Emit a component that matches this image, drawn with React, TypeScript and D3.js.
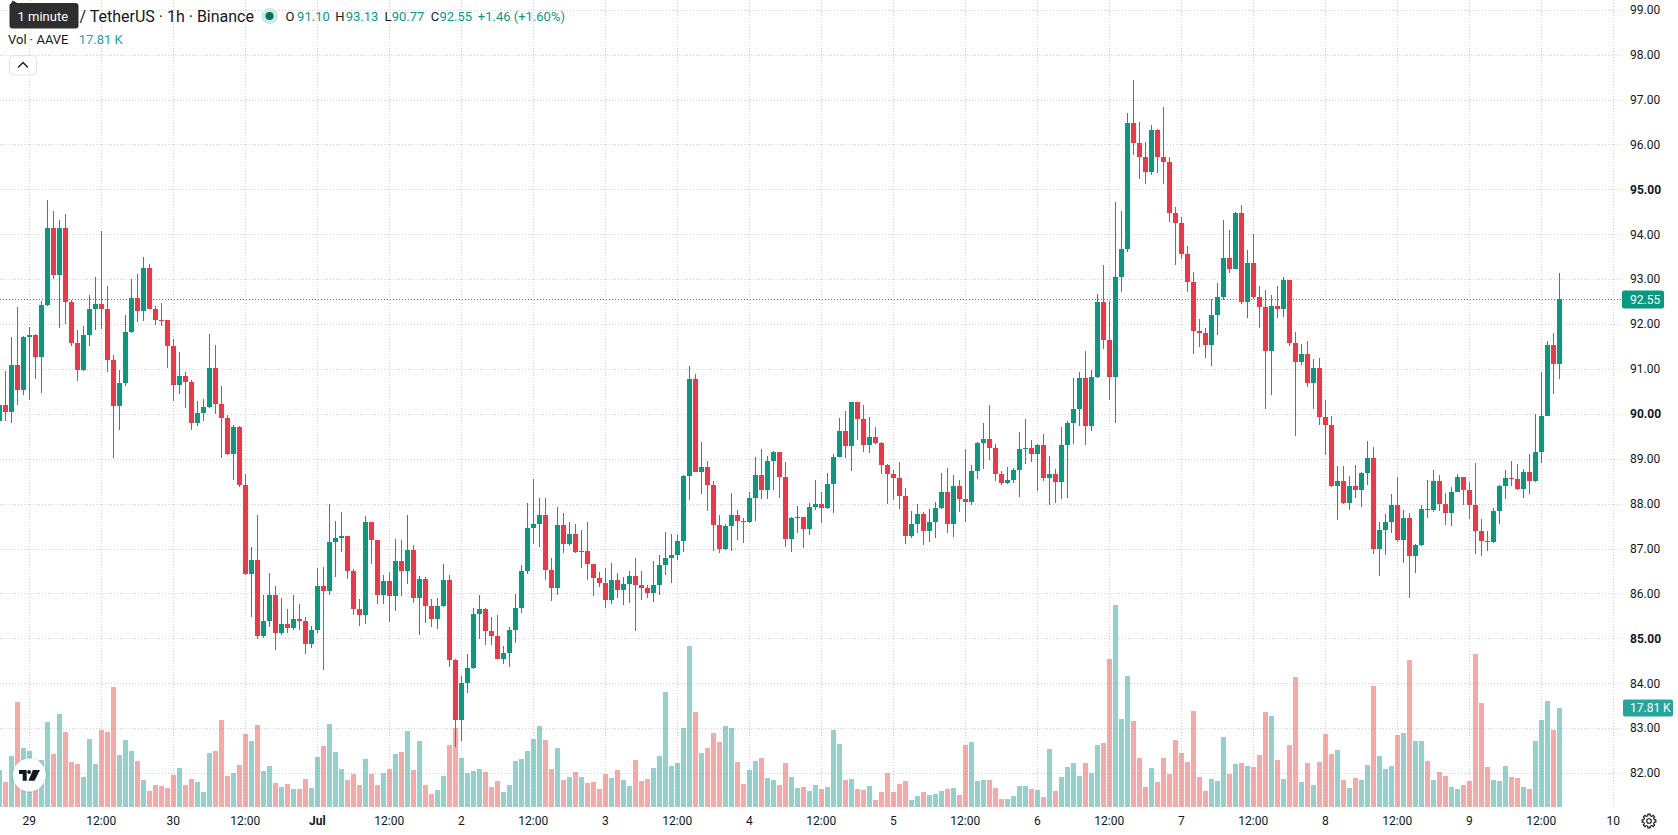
import React, { useEffect } from 'react';
import * as d3 from 'd3';

// ---- hourly AAVE/USDT bars, first bar 2024-06-28 19:00 UTC ----
const FIRST_BAR = Date.UTC(2024, 5, 28, 19);
const HOUR = 3600 * 1000;

const opens = [
  89.83, 90.20, 90.03, 91.09, 90.52,
  91.71, 91.76, 91.27, 92.42, 94.14, 93.10, 94.14, 92.50, 91.58, 90.98, 91.76, 92.33, 92.45, 92.33, 91.20, 90.17, 90.69, 91.82, 92.58, 92.28, 93.25, 92.34, 92.10, 92.08,
  91.50, 90.65, 90.84, 90.72, 89.80, 90.02, 90.15, 91.02, 90.23, 89.91, 89.11, 89.71, 88.42, 86.43, 86.75, 85.06, 85.38, 85.96, 85.12, 85.32, 85.23, 85.43, 85.38, 84.87,
  85.18, 86.17, 86.05, 87.14, 87.23, 87.28, 86.51, 85.66, 85.52, 87.59, 87.18, 85.96, 86.28, 85.94, 86.72, 86.50, 86.97, 85.90, 86.33, 85.72, 85.43, 85.71, 86.30, 84.52,
  83.19, 84.01, 84.35, 85.54, 85.65, 85.17, 85.06, 84.54, 84.67, 85.18, 85.67, 86.49, 87.46, 87.55, 87.75, 86.53, 86.11, 87.52, 87.10, 87.32, 86.92, 86.94, 86.65, 86.35,
  86.24, 85.85, 86.29, 86.08, 86.20, 86.39, 86.18, 86.13, 86.01, 86.18, 86.63, 86.78, 86.85, 87.16, 88.61, 90.78, 88.70, 88.82, 88.42, 87.52, 86.99, 87.51, 87.74, 87.61,
  87.58, 88.12, 88.64, 88.30, 88.94, 89.14, 88.60, 87.21, 87.68, 87.70, 87.43, 87.92, 87.99, 87.90, 88.44, 89.04, 89.62, 89.28, 90.26, 89.89, 89.31, 89.48, 89.34, 88.86,
  88.65, 88.57, 88.16, 87.28, 87.54, 87.76, 87.39, 87.58, 87.90, 88.26, 87.55, 88.39, 88.11, 88.04, 88.72, 89.34, 89.45, 89.23, 88.65, 88.46, 88.52, 88.76, 89.22, 89.24,
  89.10, 89.31, 88.57, 88.65, 88.48, 89.30, 89.79, 90.10, 90.80, 89.73, 90.81, 92.49, 91.64, 90.82, 93.04, 93.67, 96.48, 96.03, 95.72, 95.39, 96.32, 95.71, 95.60, 94.47,
  94.24, 93.56, 92.93, 91.85, 91.80, 91.53, 92.21, 92.61, 93.47, 93.23, 94.48, 92.49, 93.36, 92.61, 92.39, 91.39, 92.41, 92.33, 92.98, 91.57, 91.15, 91.33, 90.69, 91.01,
  89.94, 89.75, 88.40, 88.51, 88.02, 88.39, 88.31, 88.68, 89.02, 87.00, 87.42, 87.60, 87.96, 87.19, 87.67, 86.83, 87.07, 87.88, 87.85, 88.50, 87.99, 87.79, 88.27, 88.59,
  88.31, 87.97, 87.40, 87.16, 87.14, 87.83, 88.40, 88.57, 88.55, 88.32, 88.70, 88.50, 89.14, 89.96, 91.53, 91.10,
];

const highs = [
  90.30, 90.96, 91.72, 92.39, 91.74,
  91.94, 91.78, 92.52, 94.76, 94.52, 94.32, 94.45, 92.54, 91.87, 91.96, 92.65, 93.05, 94.07, 92.85, 91.30, 90.98, 92.20, 93.00, 93.11, 93.49, 93.34, 92.40, 92.47, 92.09,
  91.67, 91.38, 90.93, 90.75, 90.29, 90.33, 91.78, 91.54, 90.63, 89.98, 89.75, 89.73, 88.66, 87.03, 87.75, 85.96, 86.45, 86.16, 85.90, 85.65, 85.96, 85.76, 85.48, 85.28,
  86.57, 86.59, 87.99, 87.61, 87.81, 87.29, 86.54, 85.88, 87.72, 87.60, 87.19, 86.41, 86.48, 87.21, 87.19, 87.75, 87.08, 86.39, 86.37, 85.88, 85.90, 86.66, 86.41, 84.53,
  84.16, 84.65, 85.68, 85.97, 85.68, 85.48, 85.52, 84.83, 85.25, 85.99, 86.63, 88.01, 88.55, 88.13, 88.13, 86.79, 87.92, 87.79, 87.59, 87.55, 87.41, 87.59, 86.66, 86.48,
  86.57, 86.68, 86.46, 86.37, 86.50, 86.79, 86.50, 86.19, 86.72, 86.86, 87.37, 87.32, 87.30, 88.64, 91.07, 90.89, 89.37, 88.95, 88.50, 87.75, 87.55, 88.24, 87.86, 87.68,
  88.26, 89.04, 89.22, 89.06, 89.17, 89.15, 88.93, 87.70, 87.95, 87.71, 88.01, 88.53, 88.26, 88.68, 89.11, 89.91, 90.06, 90.27, 90.27, 90.20, 89.93, 89.71, 89.37, 88.88,
  88.75, 88.93, 88.35, 87.83, 87.99, 87.81, 87.88, 88.04, 88.68, 88.79, 88.64, 88.53, 89.22, 88.86, 89.37, 89.80, 90.20, 89.33, 88.73, 88.81, 88.79, 89.60, 89.88, 89.42,
  89.32, 89.55, 89.06, 88.77, 89.71, 89.84, 90.80, 90.93, 91.40, 90.98, 92.67, 93.31, 92.51, 94.72, 94.52, 96.70, 97.43, 96.50, 96.05, 96.43, 96.34, 96.83, 95.72, 94.61,
  94.38, 93.74, 93.16, 92.11, 91.91, 92.56, 92.91, 94.32, 94.09, 94.50, 94.65, 93.65, 94.00, 92.85, 92.76, 92.65, 92.85, 93.05, 92.99, 91.82, 91.56, 91.62, 91.22, 91.24,
  90.31, 89.95, 88.84, 88.84, 88.61, 88.86, 88.70, 89.40, 89.26, 87.59, 87.77, 88.21, 88.59, 87.86, 87.79, 87.10, 87.97, 88.53, 88.75, 88.64, 88.24, 88.37, 88.66, 88.60,
  88.48, 88.90, 87.66, 87.39, 87.90, 88.41, 88.75, 88.95, 88.88, 88.77, 89.10, 90.00, 90.93, 91.62, 91.80, 93.13,
];

const lows = [
  89.75, 89.85, 89.80, 90.20, 90.42,
  90.31, 90.78, 90.47, 92.40, 93.00, 91.92, 92.00, 91.50, 90.73, 90.96, 91.52, 91.87, 91.89, 90.93, 89.02, 89.63, 90.61, 91.80, 92.05, 92.07, 92.33, 91.98, 91.96, 91.03,
  90.29, 90.45, 90.14, 89.65, 89.74, 89.85, 90.13, 90.00, 89.02, 89.09, 88.53, 88.36, 86.41, 85.48, 84.99, 85.01, 85.25, 84.74, 85.07, 85.12, 85.19, 85.19, 84.65, 84.78,
  85.12, 84.29, 85.96, 86.37, 86.92, 86.32, 85.52, 85.27, 85.32, 86.66, 85.76, 85.76, 85.36, 85.61, 85.94, 86.21, 85.79, 85.07, 85.34, 85.25, 85.21, 85.70, 84.37, 82.59,
  82.71, 83.78, 84.32, 84.99, 84.85, 84.85, 84.54, 84.43, 84.36, 84.90, 85.56, 86.43, 87.10, 87.03, 86.30, 85.83, 85.97, 86.90, 87.06, 86.90, 86.57, 86.30, 85.94, 86.14,
  85.68, 85.76, 85.90, 85.74, 85.79, 85.16, 85.85, 85.90, 85.81, 85.97, 86.41, 86.23, 86.74, 86.92, 88.08, 88.70, 88.21, 87.84, 86.95, 86.90, 86.97, 86.95, 87.19, 87.12,
  87.57, 87.61, 88.10, 88.10, 88.30, 88.13, 87.03, 86.92, 87.35, 87.01, 87.30, 87.86, 87.57, 87.89, 87.79, 89.03, 89.02, 88.73, 89.42, 89.15, 89.13, 89.33, 88.66, 87.99,
  88.08, 87.88, 87.10, 87.23, 87.35, 87.08, 87.14, 87.23, 87.89, 87.35, 87.26, 87.81, 87.59, 87.97, 88.55, 88.77, 88.97, 88.50, 88.41, 88.44, 88.46, 88.15, 88.88, 88.93,
  88.28, 88.50, 87.97, 88.01, 88.10, 88.12, 89.33, 89.73, 89.31, 89.62, 90.80, 91.44, 90.31, 89.80, 92.71, 93.60, 95.76, 95.23, 95.12, 95.32, 95.36, 95.12, 94.27, 93.31,
  93.45, 92.71, 91.33, 91.49, 91.24, 91.07, 91.76, 92.54, 93.14, 93.22, 92.45, 92.13, 92.56, 91.91, 90.11, 90.42, 92.13, 92.16, 91.51, 89.51, 91.09, 90.60, 90.11, 89.75,
  89.08, 88.37, 87.64, 87.99, 87.86, 88.12, 87.92, 88.41, 86.88, 86.39, 86.86, 87.35, 87.15, 86.68, 85.90, 86.46, 87.06, 87.68, 87.81, 87.84, 87.52, 87.50, 88.26, 87.97,
  87.66, 86.88, 86.83, 86.95, 87.13, 87.55, 88.10, 88.39, 88.30, 88.12, 88.21, 88.49, 88.90, 89.95, 90.44, 90.77,
];

const closes = [
  90.20, 90.03, 91.09, 90.52, 91.71,
  91.76, 91.27, 92.42, 94.14, 93.10, 94.14, 92.50, 91.58, 90.98, 91.76, 92.33, 92.45, 92.33, 91.20, 90.17, 90.69, 91.82, 92.58, 92.28, 93.25, 92.34, 92.10, 92.08, 91.50,
  90.65, 90.84, 90.72, 89.80, 90.02, 90.15, 91.02, 90.23, 89.91, 89.11, 89.71, 88.42, 86.43, 86.75, 85.06, 85.38, 85.96, 85.12, 85.32, 85.23, 85.43, 85.38, 84.87, 85.18,
  86.17, 86.05, 87.14, 87.23, 87.28, 86.51, 85.66, 85.52, 87.59, 87.18, 85.96, 86.28, 85.94, 86.72, 86.50, 86.97, 85.90, 86.33, 85.72, 85.43, 85.71, 86.30, 84.52, 83.19,
  84.01, 84.35, 85.54, 85.65, 85.17, 85.06, 84.54, 84.67, 85.18, 85.67, 86.49, 87.46, 87.55, 87.75, 86.53, 86.11, 87.52, 87.10, 87.32, 86.92, 86.94, 86.65, 86.35, 86.24,
  85.85, 86.29, 86.08, 86.20, 86.39, 86.18, 86.13, 86.01, 86.18, 86.63, 86.78, 86.85, 87.16, 88.61, 90.78, 88.70, 88.82, 88.42, 87.52, 86.99, 87.51, 87.74, 87.61, 87.58,
  88.12, 88.64, 88.30, 88.94, 89.14, 88.60, 87.21, 87.68, 87.70, 87.43, 87.92, 87.99, 87.90, 88.44, 89.04, 89.62, 89.28, 90.26, 89.89, 89.31, 89.48, 89.34, 88.86, 88.65,
  88.57, 88.16, 87.28, 87.54, 87.76, 87.39, 87.58, 87.90, 88.26, 87.55, 88.39, 88.11, 88.04, 88.72, 89.34, 89.45, 89.23, 88.65, 88.46, 88.52, 88.76, 89.22, 89.24, 89.10,
  89.31, 88.57, 88.65, 88.48, 89.30, 89.79, 90.10, 90.80, 89.73, 90.81, 92.49, 91.64, 90.82, 93.04, 93.67, 96.48, 96.03, 95.72, 95.39, 96.32, 95.71, 95.60, 94.47, 94.24,
  93.56, 92.93, 91.85, 91.80, 91.53, 92.21, 92.61, 93.47, 93.23, 94.48, 92.49, 93.36, 92.61, 92.39, 91.39, 92.41, 92.33, 92.98, 91.57, 91.15, 91.33, 90.69, 91.01, 89.94,
  89.75, 88.40, 88.51, 88.02, 88.39, 88.31, 88.68, 89.02, 87.00, 87.42, 87.60, 87.96, 87.19, 87.67, 86.83, 87.07, 87.88, 87.85, 88.50, 87.99, 87.79, 88.27, 88.59, 88.31,
  87.97, 87.40, 87.16, 87.14, 87.83, 88.40, 88.57, 88.55, 88.32, 88.70, 88.50, 89.14, 89.96, 91.53, 91.10, 92.55,
];

// volume in thousands of AAVE
const volumesK = [
  6.62, 4.45, 9.15, 18.89, 10.59,
  10.05, 6.0, 8.5, 15.28, 9.51, 16.73, 13.48, 8.07, 7.70, 5.36, 12.20, 7.70, 13.84, 13.48, 21.60, 9.33, 12.04, 10.05, 8.25, 4.82, 2.83, 3.91, 3.73, 3.37,
  5.72, 6.98, 3.91, 5.00, 4.46, 2.65, 9.69, 10.05, 15.64, 5.54, 6.08, 7.52, 13.12, 11.85, 14.74, 6.44, 7.34, 4.28, 3.55, 4.10, 3.19, 3.19, 5.00, 3.37,
  8.97, 10.95, 14.92, 9.87, 6.80, 4.82, 5.90, 3.91, 8.61, 5.90, 3.91, 6.08, 6.80, 9.51, 9.87, 13.66, 6.62, 11.85, 3.91, 2.29, 3.01, 5.54, 11.13, 14.20,
  8.79, 6.08, 6.44, 6.80, 6.26, 3.55, 4.64, 2.65, 3.91, 8.25, 8.61, 10.05, 12.22, 14.56, 12.04, 6.80, 10.59, 4.82, 5.36, 6.26, 5.36, 4.28, 4.46, 3.19,
  5.90, 5.18, 6.62, 4.82, 3.73, 8.43, 4.64, 5.00, 6.98, 9.15, 20.70, 7.34, 7.88, 14.20, 29.00, 17.08, 9.69, 10.59, 13.30, 11.67, 14.56, 14.20, 8.07, 4.10,
  6.62, 8.25, 8.79, 5.18, 4.82, 3.91, 7.88, 5.36, 3.37, 3.55, 2.83, 3.91, 3.19, 3.55, 13.84, 11.31, 4.82, 5.00, 3.19, 3.01, 3.73, 1.21, 2.65, 6.08,
  2.65, 4.10, 4.64, 1.21, 1.93, 2.65, 2.11, 2.29, 2.83, 3.19, 3.37, 2.11, 11.13, 11.67, 4.64, 4.82, 4.82, 3.37, 1.39, 1.39, 1.93, 3.73, 3.73, 3.19,
  3.01, 1.75, 10.41, 2.83, 5.36, 7.16, 7.88, 5.54, 7.88, 6.08, 11.13, 11.49, 26.66, 36.40, 15.82, 23.58, 15.46, 8.79, 3.55, 6.98, 4.46, 8.79, 5.90, 12.04,
  9.69, 8.07, 17.26, 5.36, 2.83, 5.00, 4.64, 12.58, 5.90, 7.70, 7.88, 7.34, 7.16, 9.33, 17.08, 16.36, 8.43, 5.00, 11.13, 23.40, 4.46, 7.88, 3.91, 8.07,
  13.12, 9.51, 10.23, 4.82, 3.37, 5.18, 4.82, 7.52, 21.78, 9.15, 6.80, 7.34, 12.94, 13.30, 26.46, 11.85, 11.85, 8.25, 4.82, 6.26, 5.54, 3.55, 3.19, 3.91,
  4.64, 27.55, 18.71, 7.16, 4.82, 4.64, 7.34, 5.36, 5.18, 3.55, 3.19, 11.85, 15.64, 19.07, 13.84, 17.81,
];

const priceTicks = [82, 83, 84, 85, 86, 87, 88, 89, 90, 91, 92, 93, 94, 95, 96, 97, 98, 99];
const boldPriceTicks = [85, 90, 95];

// time-axis labels every 12 hours from Jun 29 00:00
const TIME_TICK_START = Date.UTC(2024, 5, 29, 0);
const timeLabels = ['29', '12:00', '30', '12:00', 'Jul', '12:00', '2', '12:00', '3', '12:00', '4', '12:00',
  '5', '12:00', '6', '12:00', '7', '12:00', '8', '12:00', '9', '12:00', '10'];
const boldTimeLabels = ['Jul'];

const lastPrice = 92.55;
const lastVolumeLabel = '17.81 K';

const legendTitle = '/ TetherUS · 1h · Binance';
const legendOHLC = [
  { key: 'O', value: '91.10' },
  { key: 'H', value: '93.13' },
  { key: 'L', value: '90.77' },
  { key: 'C', value: '92.55' },
];
const legendChange = '+1.46 (+1.60%)';
const intervalTip = '1 minute';

const W = 1678;
const H = 835;
const PLOT_RIGHT = 1621;
const PLOT_BOTTOM = 807;

const UP = '#089981';
const DOWN = '#F23645';
const VOL_UP = 'rgba(38,166,154,0.5)';
const VOL_DOWN = 'rgba(239,83,80,0.5)';
const TEXT = '#131722';
const GRID = '#d0d0d0';
const FONT = "Roboto, 'Noto Sans', 'DejaVu Sans', sans-serif";

function gearPath(cx: number, cy: number) {
  const pts: string[] = [];
  const teeth = 8;
  for (let k = 0; k < teeth * 2; k++) {
    const r = k % 2 === 0 ? 7 : 5.4;
    for (const off of [-0.18, 0.18]) {
      const a = (k * Math.PI) / teeth + off;
      pts.push(`${(cx + r * Math.cos(a)).toFixed(2)},${(cy + r * Math.sin(a)).toFixed(2)}`);
    }
  }
  return 'M' + pts.join('L') + 'Z';
}

export default function App() {
  useEffect(() => {
    document.body.style.margin = '0';
    document.body.style.overflow = 'hidden';
  }, []);

  const x = d3
    .scaleUtc()
    .domain([new Date(Date.UTC(2024, 5, 29)), new Date(Date.UTC(2024, 6, 10))])
    .range([29.3, 1613.3]);
  const y = d3.scaleLinear().domain([85, 95]).range([638.33, 189.33]);
  const yVol = d3.scaleLinear().domain([0, 17.81]).range([806.7, 708]);

  const bars = closes.map((c, i) => {
    const t = new Date(FIRST_BAR + i * HOUR);
    const cx = x(t);
    const left = Math.round(cx - 2.5);
    const o = opens[i];
    const up = c >= o;
    const top = Math.round(y(Math.max(o, c)));
    const bot = Math.round(y(Math.min(o, c)));
    const vTop = Math.round(yVol(volumesK[i]));
    return {
      i,
      left,
      up,
      bodyY: top,
      bodyH: Math.max(1, bot - top),
      wickY: Math.round(y(highs[i])),
      wickH: Math.max(1, Math.round(y(lows[i])) - Math.round(y(highs[i]))),
      vTop,
    };
  });

  const timeTicks = timeLabels.map((label, k) => ({
    label,
    x: x(new Date(TIME_TICK_START + k * 12 * HOUR)),
  }));

  const priceLineY = Math.round(y(lastPrice)) + 0.5;
  const volLabelY = yVol(17.81);

  const keyXs = [285.6, 335.2, 384.4, 430.7];
  const valXs = [297.1, 345.7, 391.7, 439.5];

  return (
    <svg
      width={W}
      height={H}
      viewBox={`0 0 ${W} ${H}`}
      style={{ position: 'absolute', left: 0, top: 0, display: 'block', background: '#ffffff' }}
      fontFamily={FONT}
    >
      <defs>
        <clipPath id="plotArea">
          <rect x={0} y={0} width={PLOT_RIGHT} height={PLOT_BOTTOM} />
        </clipPath>
        <filter id="logoShadow" x="-50%" y="-50%" width="200%" height="200%">
          <feDropShadow dx={0} dy={0} stdDeviation={1.6} floodColor="#000000" floodOpacity={0.22} />
        </filter>
      </defs>
      <rect x={0} y={0} width={W} height={H} fill="#ffffff" />

      <g clipPath="url(#plotArea)">
        {/* grid */}
        {priceTicks.map((p) => (
          <line
            key={'hg' + p}
            x1={0}
            x2={PLOT_RIGHT}
            y1={Math.round(y(p)) + 0.5}
            y2={Math.round(y(p)) + 0.5}
            stroke={GRID}
            strokeWidth={1}
            strokeDasharray="1 2"
          />
        ))}
        {timeTicks.map((t, k) => (
          <line
            key={'vg' + k}
            x1={Math.floor(t.x) + 0.5}
            x2={Math.floor(t.x) + 0.5}
            y1={0}
            y2={PLOT_BOTTOM}
            stroke={GRID}
            strokeWidth={1}
            strokeDasharray="1 2"
          />
        ))}

        {/* volume */}
        {bars.map((b) => (
          <rect
            key={'v' + b.i}
            x={b.left}
            y={b.vTop}
            width={5}
            height={PLOT_BOTTOM - b.vTop}
            fill={b.up ? VOL_UP : VOL_DOWN}
          />
        ))}

        {/* candles */}
        {bars.map((b) => (
          <g key={'c' + b.i} fill={b.up ? UP : DOWN}>
            <rect x={b.left + 2} y={b.wickY} width={1} height={b.wickH} />
            <rect x={b.left} y={b.bodyY} width={5} height={b.bodyH} />
          </g>
        ))}

        {/* last price line */}
        <line
          x1={0}
          x2={PLOT_RIGHT}
          y1={priceLineY}
          y2={priceLineY}
          stroke={UP}
          strokeWidth={1}
          strokeDasharray="1 2"
        />
      </g>

      {/* legend */}
      <text x={79.5} y={21.7} fontSize={16} fill={TEXT}>{legendTitle}</text>
      <circle cx={269.5} cy={16} r={8.3} fill="#cdebe5" />
      <circle cx={269.5} cy={16} r={4.1} fill="#08705d" />
      {legendOHLC.map((item, k) => (
        <g key={'lg' + k} fontSize={13}>
          <text x={keyXs[k]} y={20.7} fill={TEXT}>{item.key}</text>
          <text x={valXs[k]} y={20.7} fill={UP}>{item.value}</text>
        </g>
      ))}
      <text x={477.8} y={20.7} fontSize={13} fill={UP}>{legendChange}</text>

      <text x={8} y={44.4} fontSize={13} fill={TEXT}>Vol · AAVE</text>
      <text x={78.7} y={44.4} fontSize={13} fill="#26a69a">{lastVolumeLabel}</text>

      {/* collapse button */}
      <rect x={9.5} y={55.5} width={27} height={19.5} rx={4} fill="#ffffff" stroke="#e0e3eb" />
      <polyline points="18.5,67 23,62.5 27.5,67" fill="none" stroke={TEXT} strokeWidth={1.4} strokeLinecap="round" strokeLinejoin="round" />

      {/* interval tooltip */}
      <polygon points="11,4 12.5,0.5 19,4" fill="#2e2e2e" />
      <rect x={9.5} y={3} width={69} height={25.5} rx={3} fill="#2e2e2e" />
      <text x={17.5} y={20.6} fontSize={13} fill="#ffffff">{intervalTip}</text>

      {/* logo badge */}
      <g filter="url(#logoShadow)">
        <circle cx={29.3} cy={775} r={16.5} fill="#ffffff" />
      </g>
      <g transform="translate(29.3,775)" fill="#131722">
        <path d="M-10.3,-5 L-2.6,-5 L-2.6,5.7 L-6.6,5.7 L-6.6,-1 L-10.3,-1 Z" />
        <circle cx={-0.2} cy={-3} r={1.9} />
        <path d="M3.6,-5 L10.7,-5 L5.2,5.7 L-0.9,5.7 Z" />
      </g>

      {/* price axis */}
      {priceTicks.map((p) => (
        <text
          key={'pl' + p}
          x={1630}
          y={y(p)}
          dy="0.36em"
          fontSize={12}
          fontWeight={boldPriceTicks.includes(p) ? 700 : 400}
          fill={TEXT}
        >
          {p.toFixed(2)}
        </text>
      ))}
      <rect x={1622} y={priceLineY - 9} width={42} height={18} rx={2} fill={UP} />
      <text x={1630} y={priceLineY} dy="0.36em" fontSize={12} fill="#ffffff">{lastPrice.toFixed(2)}</text>
      <rect x={1623} y={volLabelY - 8.5} width={50} height={17} rx={2} fill="#26a69a" />
      <text x={1630} y={volLabelY} dy="0.36em" fontSize={12} fill="#ffffff">{lastVolumeLabel}</text>

      {/* time axis */}
      {timeTicks.map((t, k) => (
        <text
          key={'tl' + k}
          x={t.x}
          y={821}
          dy="0.36em"
          textAnchor="middle"
          fontSize={12}
          fontWeight={boldTimeLabels.includes(t.label) ? 700 : 400}
          fill={TEXT}
        >
          {t.label}
        </text>
      ))}

      {/* settings */}
      <path d={gearPath(1649, 821)} fill="none" stroke={TEXT} strokeWidth={1.1} strokeLinejoin="round" />
      <circle cx={1649} cy={821} r={2.3} fill="none" stroke={TEXT} strokeWidth={1.1} />
    </svg>
  );
}
